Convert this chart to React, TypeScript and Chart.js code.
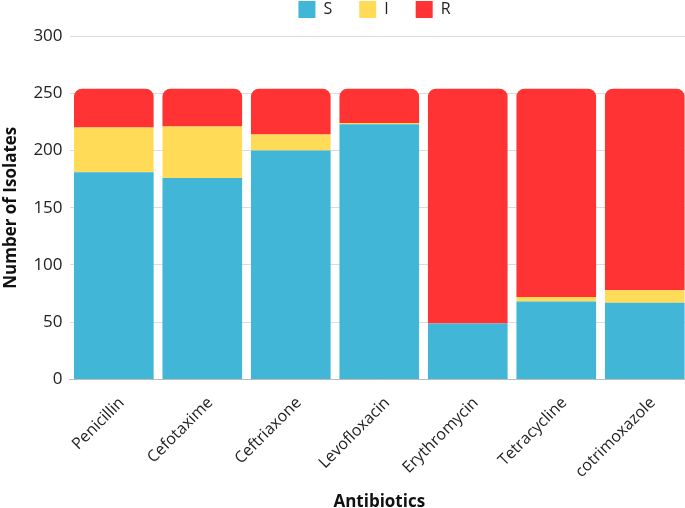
import React, { useEffect, useRef } from "react";
import { Chart, registerables } from "chart.js";

Chart.register(...registerables);

const categories = ["Penicillin", "Cefotaxime", "Ceftriaxone", "Levofloxacin", "Erythromycin", "Tetracycline", "cotrimoxazole"];
const sValues = [181, 176, 200, 223, 49, 68, 67];
const iValues = [39, 45, 14, 1, 0, 4, 11];
const rValues = [34, 33, 40, 30, 205, 182, 176];
const yTicks = [0, 50, 100, 150, 200, 250, 300];

const LEGEND_PAD = 27;
const LEGEND_HEIGHT = 36;
const LEGEND_DX = 30;

const legendTweak = {
  id: "legendTweak",
  beforeLayout(chart: any) {
    const lg = chart.legend;
    if (lg && !lg._patched) {
      const orig = lg.fit.bind(lg);
      lg.fit = function () {
        orig();
        this.height = LEGEND_HEIGHT;
      };
      lg._patched = true;
    }
  },
  afterLayout(chart: any) {
    const lg = chart.legend;
    if (lg) {
      lg.top -= LEGEND_PAD - 1;
      lg.left += LEGEND_DX;
      lg.right += LEGEND_DX;
    }
  },
};

export default function App() {
  const ref = useRef<HTMLCanvasElement>(null);
  useEffect(() => {
    document.body.style.margin = "0";
    document.body.style.overflow = "hidden";
    const font = "'Open Sans', 'Noto Sans', sans-serif";
    const chart = new Chart(ref.current!, {
      type: "bar",
      plugins: [legendTweak],
      data: {
        labels: categories,
        datasets: [
          { label: "S", data: sValues, backgroundColor: "#41B6D6", borderRadius: 0 },
          { label: "I", data: iValues, backgroundColor: "#FFDB58", borderRadius: 0 },
          {
            label: "R",
            data: rValues,
            backgroundColor: "#FF3333",
            borderRadius: { topLeft: 8, topRight: 8, bottomLeft: 0, bottomRight: 0 },
            borderSkipped: false,
          },
        ],
      },
      options: {
        animation: false,
        responsive: false,
        maintainAspectRatio: false,
        layout: { padding: { left: 0, right: 0, top: 0, bottom: -4 } },
        datasets: { bar: { categoryPercentage: 0.9, barPercentage: 1 } },
        plugins: {
          legend: {
            position: "top",
            labels: {
              boxWidth: 17,
              boxHeight: 17,
              padding: LEGEND_PAD,
              color: "#222",
              font: { family: font, size: 16 },
            },
          },
          tooltip: { enabled: false },
        },
        scales: {
          x: {
            stacked: true,
            grid: { display: false },
            border: { color: "#bbb" },
            afterFit: (scale: any) => {
              scale.paddingLeft = 0;
              scale.paddingRight = 0;
            },
            ticks: { color: "#222", font: { family: font, size: 16 }, maxRotation: 45, minRotation: 45, padding: 6, labelOffset: 8 },
            title: { display: true, text: "Antibiotics", color: "#111", font: { family: font, size: 17, weight: "bold" }, padding: { top: 4, bottom: 0 } },
          },
          y: {
            stacked: true,
            min: 0,
            max: 300,
            afterBuildTicks: (axis: any) => {
              axis.ticks = yTicks.map((v) => ({ value: v }));
            },
            grid: { color: "#dcdcdc", drawTicks: false },
            border: { display: false },
            ticks: { color: "#222", font: { family: font, size: 17 }, padding: 7 },
            title: { display: true, text: "Number of Isolates", color: "#111", font: { family: font, size: 17, weight: "bold" }, padding: { top: 1, bottom: 5 } },
          },
        },
      },
    });
    return () => chart.destroy();
  }, []);
  return (
    <div style={{ width: 685, height: 508, overflow: "hidden" }}>
      <canvas ref={ref} width={689} height={508} style={{ width: 689, height: 508, display: "block" }} />
    </div>
  );
}
